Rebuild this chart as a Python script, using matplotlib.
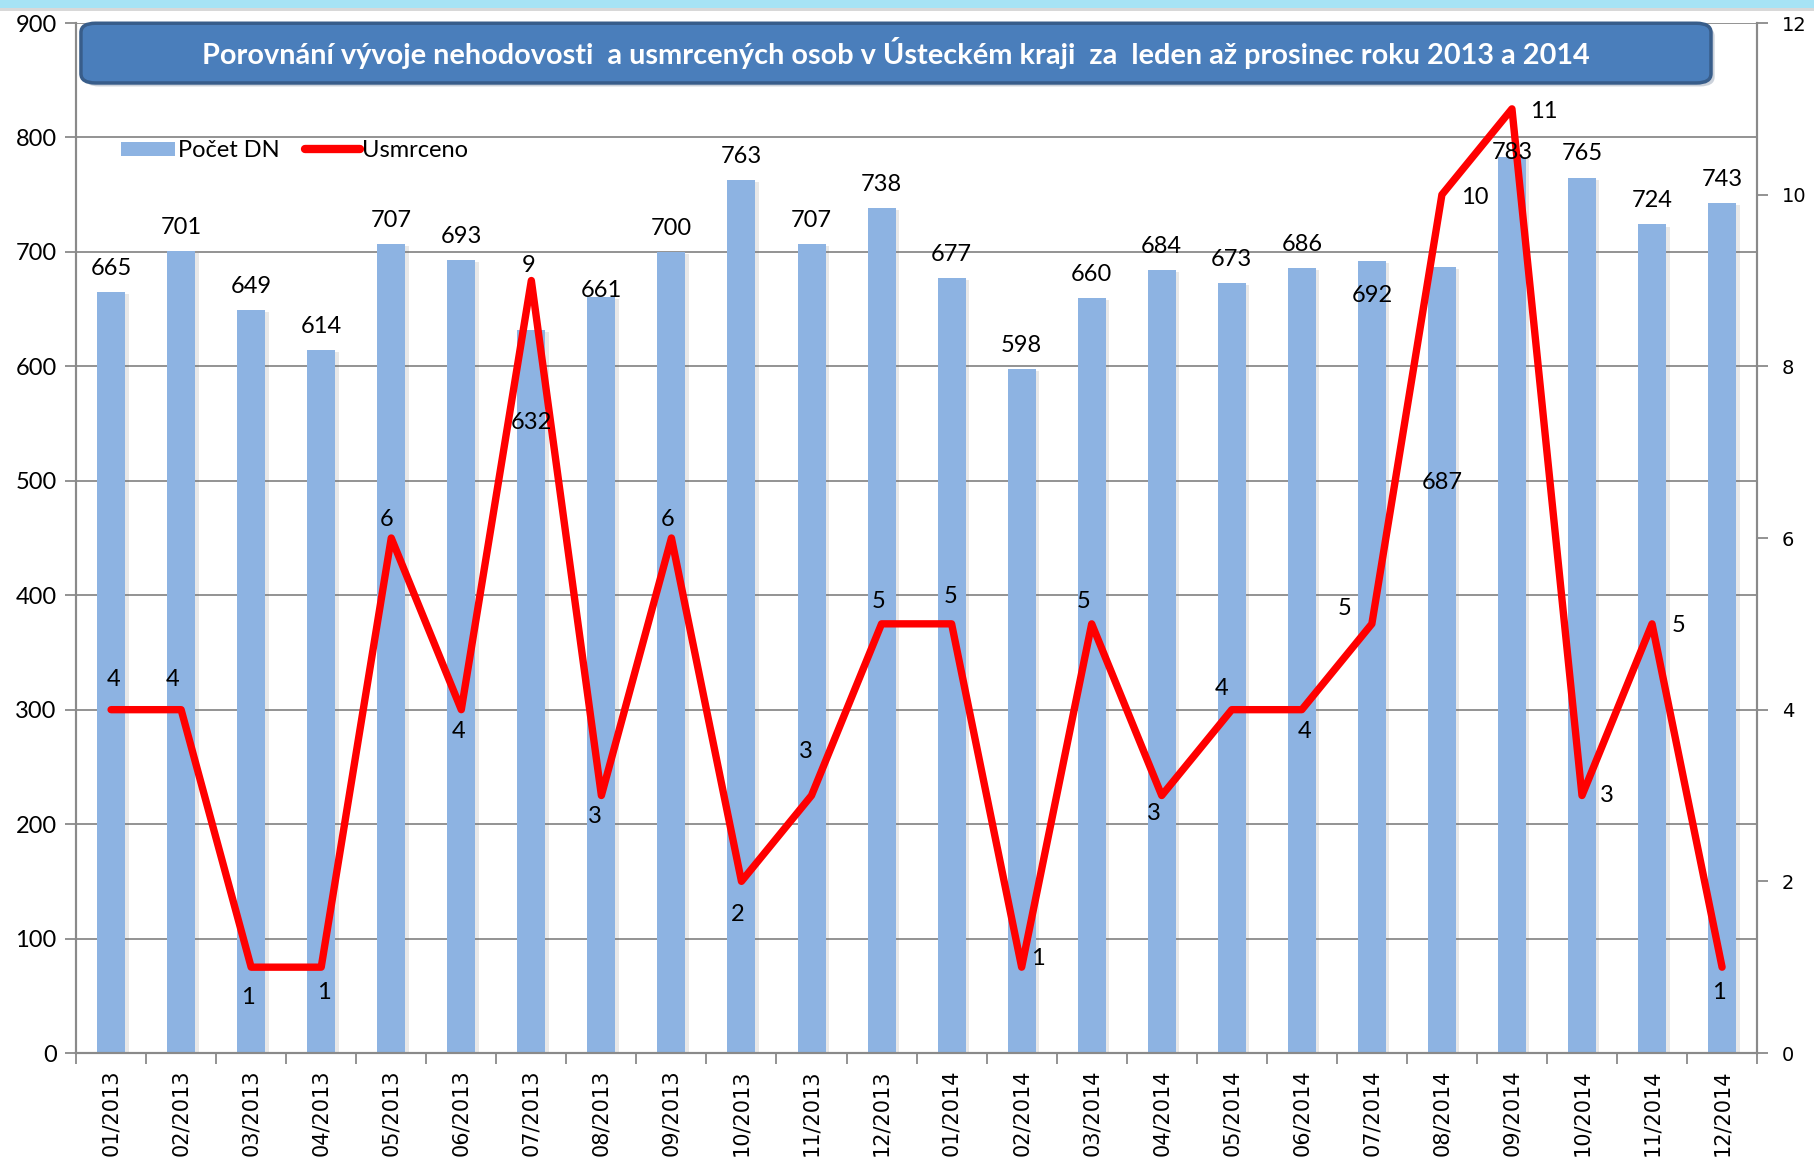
import matplotlib
matplotlib.use("Agg")
import matplotlib.pyplot as plt
from matplotlib.patches import FancyBboxPatch, Rectangle
from matplotlib.lines import Line2D
from matplotlib.patches import Patch
import matplotlib.patheffects as pe
import numpy as np

# ---------------- data ----------------
months = ["01/2013", "02/2013", "03/2013", "04/2013", "05/2013", "06/2013",
          "07/2013", "08/2013", "09/2013", "10/2013", "11/2013", "12/2013",
          "01/2014", "02/2014", "03/2014", "04/2014", "05/2014", "06/2014",
          "07/2014", "08/2014", "09/2014", "10/2014", "11/2014", "12/2014"]
pocet_dn = [665, 701, 649, 614, 707, 693, 632, 661, 700, 763, 707, 738,
            677, 598, 660, 684, 673, 686, 692, 687, 783, 765, 724, 743]
usmrceno = [4, 4, 1, 1, 6, 4, 9, 3, 6, 2, 3, 5,
            5, 1, 5, 3, 4, 4, 5, 10, 11, 3, 5, 1]
left_ticks = [0, 100, 200, 300, 400, 500, 600, 700, 800, 900]
right_ticks = [0, 2, 4, 6, 8, 10, 12]
title = ("Porovnání vývoje nehodovosti  a usmrcených osob v Ústeckém kraji  "
         "za  leden až prosinec roku 2013 a 2014")

# label placement (offset points) - styling only
bar_lbl_off = {6: -67, 7: 4, 18: -25, 19: -155, 20: 3}
bar_lbl_default = 17
line_lbl_off = [(2, 22), (-6, 22), (-2, -22), (2, -18), (-3, 13), (-2, -16),
                (-2, 11), (-5, -15), (-3, 13), (-3, -24), (-4, 32), (-2, 16),
                (-1, 20), (12, 6), (-6, 16), (-6, -13), (-7, 15), (2, -16),
                (-20, 11), (24, -2), (23, -2), (18, 0), (19, -1), (-2, -18)]

CAL = ["Lato", "DejaVu Sans"]
VER = ["DejaVu Sans"]
BAR_C = "#8DB3E2"
LINE_C = "#FF0000"
GRID_C = "#8A8A8A"
LBL_FS = 17

fig = plt.figure(figsize=(18.15, 11.62), dpi=100)
fig.patch.set_facecolor("white")

ax1 = fig.add_axes([0.0419, 0.0938, 0.9262, 0.8864])
ax2 = ax1.twinx()

x = np.arange(len(months))
bars = ax1.bar(x, pocet_dn, width=0.4, color=BAR_C, zorder=2)
for b in bars:
    b.set_path_effects([pe.SimplePatchShadow(offset=(2.5, -1.5), alpha=0.15,
                                             shadow_rgbFace="#666666"),
                        pe.Normal()])

ax1.set_xlim(-0.5, len(months) - 0.5)
ax1.set_ylim(0, 900)
ax1.set_yticks(left_ticks)
ax1.set_yticklabels([str(t) for t in left_ticks], family=CAL, fontsize=LBL_FS)
ax1.yaxis.grid(True, color=GRID_C, linewidth=1.3, zorder=0)
ax1.set_axisbelow(True)

ax1.set_xticks(x)
ax1.set_xticklabels(months, rotation=90, family=VER, fontsize=15)
ax1.set_xticks(np.arange(len(months) + 1) - 0.5, minor=True)
ax1.tick_params(axis="x", which="major", length=0, pad=12)
ax1.tick_params(axis="x", which="minor", length=8, width=1.3, color=GRID_C,
                direction="out")
ax1.tick_params(axis="y", length=8, width=1.3, color=GRID_C, direction="out",
                pad=6)

for sp in ["top"]:
    ax1.spines[sp].set_visible(False)
    ax2.spines[sp].set_visible(False)
for ax in (ax1, ax2):
    for sp in ["left", "right", "bottom"]:
        ax.spines[sp].set_color(GRID_C)
        ax.spines[sp].set_linewidth(1.5)

ax2.plot(x, usmrceno, color=LINE_C, linewidth=5.3, solid_joinstyle="round",
         solid_capstyle="round", zorder=3)
ax2.set_ylim(0, 12)
ax2.set_yticks(right_ticks)
ax2.set_yticklabels([str(t) for t in right_ticks], family=VER, fontsize=14)
ax2.tick_params(axis="y", length=8, width=1.3, color=GRID_C, direction="out",
                pad=10)

# bar value labels
for i, v in enumerate(pocet_dn):
    dy = bar_lbl_off.get(i, bar_lbl_default)
    ax2.annotate(str(v), xy=(x[i], v), xycoords=ax1.transData,
                 xytext=(0, dy), textcoords="offset points",
                 ha="center", va="center", family=CAL, fontsize=LBL_FS,
                 color="black", zorder=6)

# line value labels
for i, v in enumerate(usmrceno):
    dx, dy = line_lbl_off[i]
    ax2.annotate(str(v), xy=(x[i], v), xytext=(dx, dy),
                 textcoords="offset points", ha="center", va="center",
                 family=CAL, fontsize=LBL_FS, color="black", zorder=6)

# legend
handles = [Patch(facecolor=BAR_C, edgecolor="none"),
           Line2D([0], [0], color=LINE_C, linewidth=6, solid_capstyle="round")]
leg = ax2.legend(handles, ["Počet DN", "Usmrceno"], ncol=2,
                 loc="upper left", bbox_to_anchor=(0.024, 0.891),
                 frameon=False, prop={"family": CAL, "size": LBL_FS},
                 handlelength=2.3, handleheight=0.55, handletextpad=0.1,
                 columnspacing=1.1, borderaxespad=0, borderpad=0.2)
leg.set_zorder(7)

# title box
shadow = FancyBboxPatch((0.0446 + 0.002, 0.9286 - 0.003), 0.8981, 0.0514,
                        boxstyle="round,pad=0,rounding_size=0.008",
                        transform=fig.transFigure, facecolor="#9aa7b8",
                        edgecolor="none", alpha=0.5, zorder=8)
fig.add_artist(shadow)
box = FancyBboxPatch((0.0446, 0.9286), 0.8981, 0.0514,
                     boxstyle="round,pad=0,rounding_size=0.008",
                     transform=fig.transFigure, facecolor="#4A7EBB",
                     edgecolor="#385D8A", linewidth=2.5, zorder=9)
fig.add_artist(box)
fig.text(0.4936, 0.9543, title, ha="center", va="center", color="white",
         family=CAL, fontweight="bold", fontsize=20.8, zorder=10)

# top cyan strip
fig.add_artist(Rectangle((0, 0.9935), 1, 0.0065, transform=fig.transFigure,
                         facecolor="#A6E3F5", edgecolor="none", zorder=11))
fig.add_artist(Rectangle((0, 0.9905), 1, 0.003, transform=fig.transFigure,
                         facecolor="#D8D8D8", edgecolor="none", zorder=11))

fig.savefig("out.png", dpi=100, facecolor="white")
